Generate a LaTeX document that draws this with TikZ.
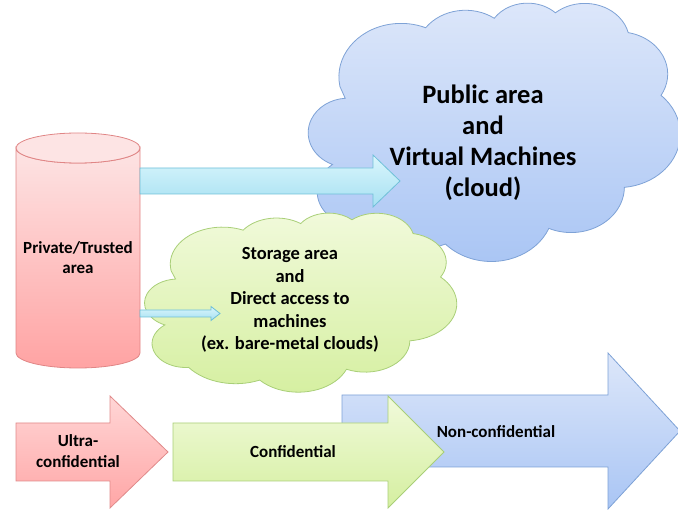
\documentclass[tikz,border=0pt]{standalone}
\usepackage{fontspec}
\setmainfont{Carlito}
\definecolor{cylTop}{HTML}{FDE4E4}
\definecolor{cylBot}{HTML}{FFA3A3}
\definecolor{cylLine}{HTML}{E08585}
\definecolor{cyTop}{HTML}{DAF6FC}
\definecolor{cyBot}{HTML}{A6E0F2}
\definecolor{cyLine}{HTML}{6FC0D8}
\definecolor{buTop}{HTML}{DDE7FA}
\definecolor{buBot}{HTML}{A9C5F4}
\definecolor{buLine}{HTML}{7EA2D6}
\definecolor{grTop}{HTML}{F1FADB}
\definecolor{grBot}{HTML}{D5EFA0}
\definecolor{grLine}{HTML}{A9CF78}
\definecolor{rdTop}{HTML}{FFD6D6}
\definecolor{rdBot}{HTML}{FFA6A6}
\definecolor{rdLine}{HTML}{E08A8A}
\newcommand{\blockarrow}[7]{% x0 xhead xtip yc bodyhalf headhalf style
  \path[#7] (#1,#4-#5) -- (#2,#4-#5) -- (#2,#4-#6) -- (#3,#4) -- (#2,#4+#6) -- (#2,#4+#5) -- (#1,#4+#5) -- cycle;}
% --- cloud outline (units of 1/432 of the box) ---
\newcommand{\cloudarc}[4]{%
  \pgfmathsetmacro\crx{#1/432*\cW}%
  \pgfmathsetmacro\cry{#2/432*\cH}%
  \xdef\cpath{\cpath arc[start angle=#3, delta angle=#4, x radius=\crx, y radius=\cry]}}
\newcommand{\drawcloud}[5]{% x0 y0 w h style
  \gdef\cX{#1}\gdef\cY{#2}\gdef\cW{#3}\gdef\cH{#4}%
  \gdef\cpath{}%
  \cloudarc{67.53}{91.90}{-190.48748}{123.78053}%
  \cloudarc{53.33}{72.67}{-144.10238}{89.94523}%
  \cloudarc{43.65}{59.45}{-145.80792}{99.72302}%
  \cloudarc{48.57}{65.95}{-130.98607}{117.24173}%
  \cloudarc{53.33}{72.73}{-78.70888}{109.02692}%
  \cloudarc{67.75}{92.20}{-46.26725}{130.269}%
  \cloudarc{57.85}{78.67}{0.62502}{114.03333}%
  \cloudarc{67.52}{92.15}{22.4516}{115.17255}%
  \cloudarc{77.20}{105.43}{66.24263}{75.71102}%
  \cloudarc{43.60}{59.18}{-274.94208}{146.73557}%
  \cloudarc{43.45}{59.45}{-246.8285}{152.51885}%
  \path[#5, line width=0.8pt] ({#1+39.00/432*#3},{#2+143.70/432*#4}) \cpath -- cycle;}
\begin{document}
\begin{tikzpicture}[x=1pt,y=-1pt,
  lbl/.style={font=\bfseries, align=center, inner sep=0pt, text=black},
  bluefill/.style={draw=buLine, top color=buTop, bottom color=buBot},
  greenfill/.style={draw=grLine, top color=grTop, bottom color=grBot},
  cyanfill/.style={draw=cyLine, top color=cyTop, bottom color=cyBot, line width=0.8pt},
  redfill/.style={draw=rdLine, top color=rdTop, bottom color=rdBot, line width=0.8pt},
]
\useasboundingbox (0,0) rectangle (678,510);
% blue cloud
\drawcloud{304}{3}{398}{251}{bluefill}
% cylinder
\path[draw=cylLine, line width=0.8pt, top color=cylTop, bottom color=cylBot]
  (16,148) -- (16,353) arc[start angle=180, end angle=0, x radius=62, y radius=15] -- (140,148)
  arc[start angle=0, end angle=180, x radius=62, y radius=15] -- cycle;
\path[draw=cylLine, line width=0.8pt, fill=cylTop] (78,148) ellipse[x radius=62, y radius=15];
\node[lbl, font=\bfseries\fontsize{17}{20}\selectfont] (priv) at (78,258) {Private/Trusted\\area};
% big cyan arrow
\blockarrow{140}{373}{400}{181}{13}{26}{cyanfill}
\node[lbl, font=\bfseries\fontsize{26.5}{31}\selectfont] (pubtxt) at (483,143) {Public area\\and\\Virtual Machines\\(cloud)};
% green cloud
\drawcloud{141}{213}{334}{174}{greenfill}
\node[lbl, font=\bfseries\fontsize{18.5}{22.5}\selectfont] (stortxt) at (290,300) {Storage area\\and\\Direct access to\\machines\\(ex. bare-metal clouds)};
% small cyan arrow
\blockarrow{140}{211}{220}{313.5}{3.5}{7}{cyanfill}
% bottom arrows
\blockarrow{342}{608}{680}{431}{36}{78}{draw=buLine, top color=buTop, bottom color=buBot, line width=0.8pt}
\blockarrow{16}{110}{168}{452}{29}{56}{redfill}
\blockarrow{173}{388}{444}{452}{29}{56}{draw=grLine, top color=grTop, bottom color=grBot, line width=0.8pt}
\node[lbl, font=\bfseries\fontsize{17}{21}\selectfont] (ultra) at (78,451.5) {Ultra-\\confidential};
\node[lbl, font=\bfseries\fontsize{17}{21}\selectfont] (conf) at (293,452) {Confidential};
\node[lbl, font=\bfseries\fontsize{17}{21}\selectfont] (nonconf) at (496,432) {Non-confidential};
\end{tikzpicture}
\end{document}
